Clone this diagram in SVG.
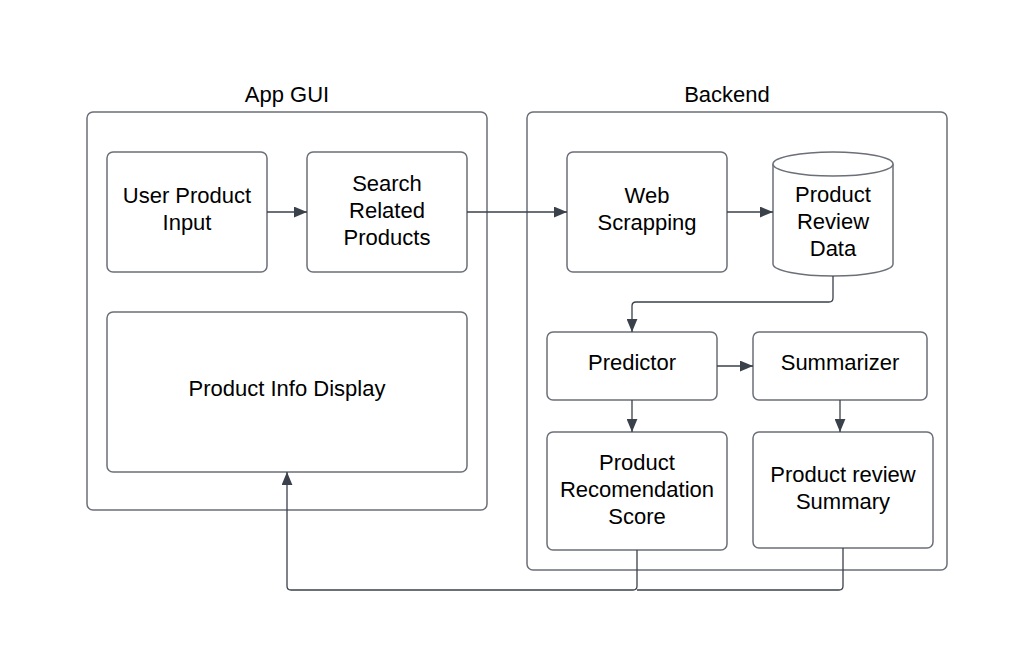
<svg xmlns="http://www.w3.org/2000/svg" width="1019" height="667" viewBox="0 0 1019 667">
<style>
.box{fill:#fff;stroke:#6b7078;stroke-width:1.5}
.t{font-family:"Liberation Sans",Arial,sans-serif;font-size:22px;fill:#000;text-anchor:middle}
.c{fill:none;stroke:#3a414a;stroke-width:1.3}
</style>
<defs>
<marker id="ah" viewBox="0 0 12 10" refX="12" refY="5" markerWidth="13" markerHeight="11" markerUnits="userSpaceOnUse" orient="auto">
<path d="M0,0 L12,5 L0,10 Z" fill="#3a414a"/>
</marker>
</defs>
<rect width="1019" height="667" fill="#fff"/>
<g id="app-gui">
<rect class="box" x="87" y="112" width="400" height="398" rx="6"/>
<text class="t" x="287" y="102">App GUI</text>
</g>
<g id="backend">
<rect class="box" x="527" y="112" width="420" height="458" rx="6"/>
<text class="t" x="727" y="102">Backend</text>
</g>
<g id="user-input">
<rect class="box" x="107" y="152" width="160" height="120" rx="6"/>
<text class="t" x="187" y="203">User Product</text>
<text class="t" x="187" y="230">Input</text>
</g>
<g id="search">
<rect class="box" x="307" y="152" width="160" height="120" rx="6"/>
<text class="t" x="387" y="191">Search</text>
<text class="t" x="387" y="218">Related</text>
<text class="t" x="387" y="245">Products</text>
</g>
<g id="info-display">
<rect class="box" x="107" y="312" width="360" height="160" rx="6"/>
<text class="t" x="287" y="396">Product Info Display</text>
</g>
<g id="web-scrapping">
<rect class="box" x="567" y="152" width="160" height="120" rx="6"/>
<text class="t" x="647" y="203">Web</text>
<text class="t" x="647" y="230">Scrapping</text>
</g>
<g id="review-data">
<path class="box" d="M773,164 A60,12 0 0 1 893,164 L893,264 A60,12 0 0 1 773,264 Z"/>
<path class="box" fill="none" d="M773,164 A60,12 0 0 0 893,164"/>
<text class="t" x="833" y="202">Product</text>
<text class="t" x="833" y="229">Review</text>
<text class="t" x="833" y="256">Data</text>
</g>
<g id="predictor">
<rect class="box" x="547" y="332" width="170" height="68" rx="6"/>
<text class="t" x="632" y="370">Predictor</text>
</g>
<g id="summarizer">
<rect class="box" x="753" y="332" width="174" height="68" rx="6"/>
<text class="t" x="840" y="370">Summarizer</text>
</g>
<g id="score">
<rect class="box" x="547" y="432" width="180" height="118" rx="6"/>
<text class="t" x="637" y="470">Product</text>
<text class="t" x="637" y="497">Recomendation</text>
<text class="t" x="637" y="524">Score</text>
</g>
<g id="summary">
<rect class="box" x="753" y="432" width="180" height="116" rx="6"/>
<text class="t" x="843" y="482">Product review</text>
<text class="t" x="843" y="509">Summary</text>
</g>
<g id="connectors">
<path class="c" d="M267,212 L307,212" marker-end="url(#ah)"/>
<path class="c" d="M467,212 L567,212" marker-end="url(#ah)"/>
<path class="c" d="M727,212 L773,212" marker-end="url(#ah)"/>
<path class="c" d="M833,276 L833,298 Q833,302 829,302 L636,302 Q632,302 632,306 L632,332" marker-end="url(#ah)"/>
<path class="c" d="M717,366 L753,366" marker-end="url(#ah)"/>
<path class="c" d="M632,400 L632,432" marker-end="url(#ah)"/>
<path class="c" d="M840,400 L840,432" marker-end="url(#ah)"/>
<path class="c" d="M637,550 L637,586 Q637,590 633,590 L291,590 Q287,590 287,586 L287,472" marker-end="url(#ah)"/>
<path class="c" d="M843,548 L843,586 Q843,590 839,590 L637,590"/>
</g>
</svg>
